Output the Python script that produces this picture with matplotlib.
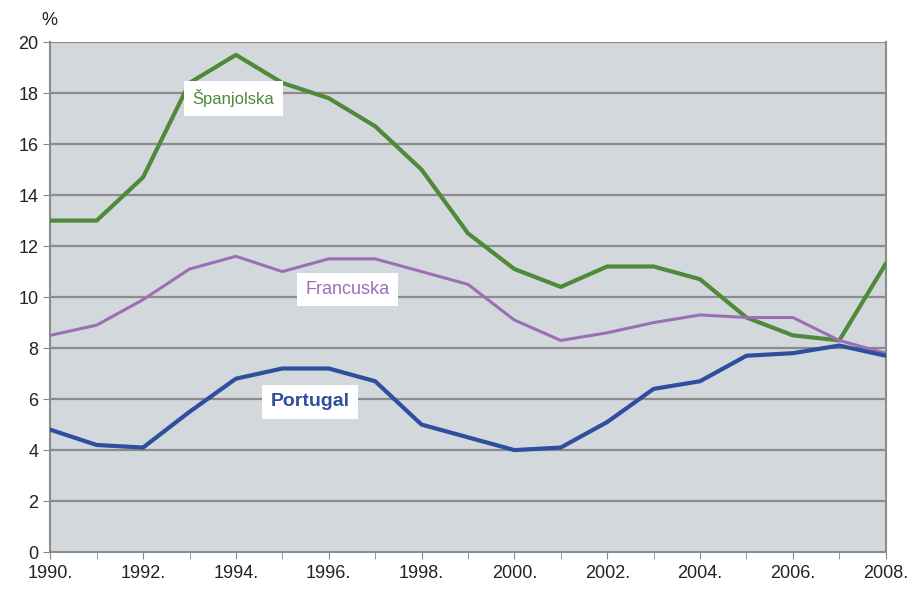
import numpy as np
import matplotlib.pyplot as plt

plt.rcParams['font.family'] = ['Liberation Sans', 'DejaVu Sans']

years = list(range(1990, 2009))
spain = [13.0, 13.0, 14.7, 18.4, 19.5, 18.4, 17.8, 16.7, 15.0, 12.5,
         11.1, 10.4, 11.2, 11.2, 10.7, 9.2, 8.5, 8.3, 11.3]
france = [8.5, 8.9, 9.9, 11.1, 11.6, 11.0, 11.5, 11.5, 11.0, 10.5,
          9.1, 8.3, 8.6, 9.0, 9.3, 9.2, 9.2, 8.3, 7.8]
portugal = [4.8, 4.2, 4.1, 5.5, 6.8, 7.2, 7.2, 6.7, 5.0, 4.5,
            4.0, 4.1, 5.1, 6.4, 6.7, 7.7, 7.8, 8.1, 7.7]
xtick_years = list(range(1990, 2009, 2))
yticks = list(range(0, 21, 2))

c_spain = '#4e8a3a'
c_france = '#9c6fb4'
c_portugal = '#2e4f9e'

fig = plt.figure(figsize=(9.14, 5.93), dpi=100)
ax = fig.add_axes([0.055, 0.069, 0.914, 0.86])
ax.set_facecolor('#d3d8dc')

for y in yticks[1:]:
    ax.axhline(y, color='#8c8c8c', lw=1.6, zorder=1)

ax.plot(years, spain, color=c_spain, lw=3, zorder=3, solid_joinstyle='round')
ax.plot(years, france, color=c_france, lw=2.2, zorder=3, solid_joinstyle='round')
ax.plot(years, portugal, color=c_portugal, lw=3, zorder=4, solid_joinstyle='round')

box = dict(facecolor='white', edgecolor='none', pad=6)
ax.text(1993.95, 17.8, 'Španjolska', color=c_spain, fontsize=12, ha='center', va='center', bbox=box, zorder=5)
ax.text(1996.4, 10.3, 'Francuska', color=c_france, fontsize=13, ha='center', va='center', bbox=box, zorder=5)
ax.text(1995.6, 5.9, 'Portugal', color=c_portugal, fontsize=14, fontweight='bold', ha='center', va='center', bbox=box, zorder=5)

ax.set_xlim(1990, 2008)
ax.set_ylim(0, 20)
ax.set_xticks(years, minor=True)
ax.set_xticks(xtick_years)
ax.set_xticklabels([f'{y}.' for y in xtick_years], fontsize=13, color='#222222',
                   family=['Liberation Sans Narrow', 'Liberation Sans'])
ax.set_yticks(yticks)
ax.set_yticklabels([str(y) for y in yticks], fontsize=13, color='#222222')
ax.tick_params(axis='x', which='both', length=5, color='#888888', pad=4)
ax.tick_params(axis='y', length=5, color='#888888')

ax.spines['top'].set_visible(False)
for side in ['left', 'right', 'bottom']:
    ax.spines[side].set_color('#8c8c8c')
    ax.spines[side].set_linewidth(1.5)

fig.text(0.045, 0.965, '%', fontsize=13, color='#222222', ha='left', va='center')

fig.savefig('out.png', dpi=100)
